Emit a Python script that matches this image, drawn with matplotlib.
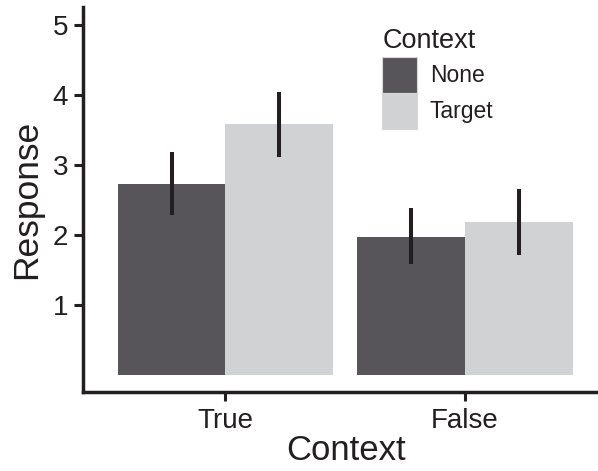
import matplotlib.pyplot as plt
import numpy as np

plt.rcParams['font.family'] = ['Liberation Sans', 'DejaVu Sans']

contexts = ["True", "False"]
groups = ["None", "Target"]
means = {"None": [2.72, 1.96], "Target": [3.58, 2.18]}
lower = {"None": [2.28, 1.58], "Target": [3.11, 1.71]}
upper = {"None": [3.18, 2.38], "Target": [4.04, 2.65]}
colors = {"None": "#575559", "Target": "#d1d2d4"}
ink = "#231f20"

fig = plt.figure(figsize=(5.98, 4.71), dpi=100)
ax = fig.add_axes([0.1383, 0.1677, 0.8617, 0.8174])

x = np.arange(1, len(contexts) + 1)
w = 0.45
for i, g in enumerate(groups):
    xpos = x + (i - 0.5) * w
    m = np.array(means[g])
    ax.bar(xpos, m, width=w, color=colors[g], edgecolor="none", label=g, zorder=2)
    ax.vlines(xpos, lower[g], upper[g], color=ink, linewidth=2.9, zorder=3)

ax.set_xlim(0.404, 2.555)
ax.set_ylim(-0.25, 5.25)
ax.set_xticks(x)
ax.set_xticklabels(contexts)
ax.set_yticks([1, 2, 3, 4, 5])

for side in ["top", "right"]:
    ax.spines[side].set_visible(False)
for side in ["left", "bottom"]:
    ax.spines[side].set_linewidth(2.5)
    ax.spines[side].set_color(ink)
ax.tick_params(axis="both", length=6.5, width=2.2, color=ink, labelcolor=ink)
ax.tick_params(axis="y", labelsize=20, pad=4)
ax.tick_params(axis="x", labelsize=20, pad=5)

ax.set_xlabel("Context", fontsize=25, color=ink)
ax.xaxis.set_label_coords(0.511, -0.108)
ax.set_ylabel("Response", fontsize=25.5, color=ink, labelpad=7)

leg = ax.legend(frameon=False, fontsize=16.5,
                handlelength=1.527, handleheight=2.038, labelspacing=0,
                handletextpad=0.57, loc="upper left",
                bbox_to_anchor=(381.7 / 598, 1 - 57 / 471), bbox_transform=fig.transFigure,
                borderaxespad=0, borderpad=0)
for t in leg.get_texts():
    t.set_color(ink)
for h in leg.legend_handles:
    h.set_edgecolor("#d6d6d6")
    h.set_linewidth(0.8)
fig.text(383 / 598, 1 - 48.5 / 471, "Context", fontsize=19.5, color=ink,
         ha="left", va="baseline")

fig.savefig("out.png", dpi=100)
